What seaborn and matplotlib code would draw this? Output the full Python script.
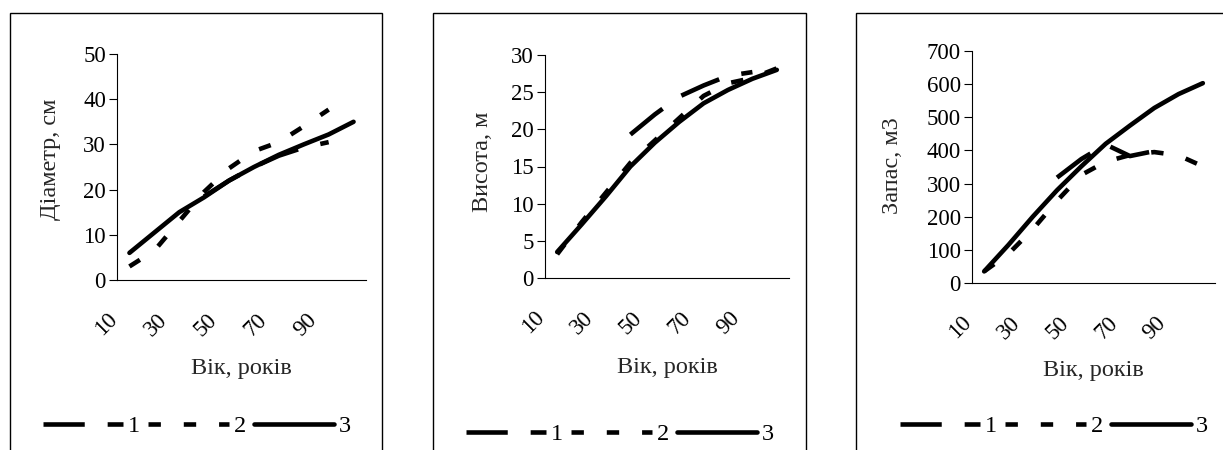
import numpy as np
import pandas as pd
import seaborn as sns
import matplotlib
matplotlib.use("Agg")
import matplotlib.pyplot as plt
from matplotlib.patches import Rectangle
from matplotlib.transforms import ScaledTranslation

# ---- data -------------------------------------------------------------
ages = [10, 20, 30, 40, 50, 60, 70, 80, 90, 100]
age_labels = ["10", "30", "50", "70", "90"]
series_names = ["1", "2", "3"]

nan = np.nan
diameter_1 = [nan, nan, nan, 18.5, 22.0, 25.0, 27.5, 29.3, 30.5, nan]
diameter_2 = [3.0, 6.5, 13.0, 19.5, 24.7, 28.5, 30.5, 34.0, 37.7, nan]
diameter_3 = [6.0, 10.5, 15.0, 18.3, 22.0, 25.0, 27.7, 30.0, 32.2, 35.0]

height_1 = [nan, nan, nan, 19.3, 22.0, 24.4, 25.9, 27.2, 27.7, nan]
height_2 = [3.2, 7.5, 11.5, 15.5, 18.5, 21.5, 24.5, 26.2, 26.9, 28.2]
height_3 = [3.5, 7.2, 11.0, 15.0, 18.2, 21.0, 23.5, 25.3, 26.8, 28.0]

stock_1 = [nan, nan, nan, 318, 374, 418, 383, 398, nan, nan]
stock_2 = [35, 88, 162, 248, 326, 366, 386, 395, 385, 352]
stock_3 = [35, 115, 200, 280, 352, 420, 475, 528, 570, 603]

y_titles = ["Діаметр, см", "Висота, м", "Запас, м3"]
x_title = "Вік, років"
y_limits = [(0, 50, 10), (0, 30, 5), (0, 700, 100)]

# ---- style ------------------------------------------------------------
sns.set_style("white")
plt.rcParams["font.family"] = ["Liberation Serif", "DejaVu Serif"]
plt.rcParams["font.size"] = 16.5
plt.rcParams["text.color"] = "black"
plt.rcParams["xtick.color"] = "black"
plt.rcParams["ytick.color"] = "black"

TICK_FS = 16.5
TITLE_FS = 17.5

DPI = 100
W, H = 1223, 450
fig = plt.figure(figsize=(W / DPI, H / DPI), dpi=DPI)
fig.patch.set_facecolor("white")

dash_map = {"1": (9.0, 5.0), "2": (2.7, 5.0), "3": ""}


def px_box(left, top, right, bottom):
    return [left / W, 1 - bottom / H, (right - left) / W, (bottom - top) / H]


# axes rectangles (pixels): left, top, right, bottom
axes_px = [(117, 54, 366, 280), (545, 55, 789, 278), (972, 51, 1215, 283)]
# surrounding chart frames (pixels)
frames_px = [(10, 13, 382, 470), (433, 13, 806, 470), (856, 13, 1240, 470)]
ylabel_x = [-0.225, -0.215, -0.285]
ylabel_y = [0.535, 0.52, 0.505]
xlabel_y = [-0.345, -0.355, -0.33]
legend_pos = [(197, 426), (620, 434), (1054, 426)]

panels = [
    (diameter_1, diameter_2, diameter_3),
    (height_1, height_2, height_3),
    (stock_1, stock_2, stock_3),
]

# rotated age labels sit to the left of their category
label_shift = ScaledTranslation(-23 / DPI, 0, fig.dpi_scale_trans)

for k, values in enumerate(panels):
    l, t, r, b = frames_px[k]
    fig.patches.append(Rectangle((l / W, 1 - b / H), (r - l) / W, (b - t) / H,
                                 transform=fig.transFigure, fill=False,
                                 edgecolor="black", linewidth=1.0, zorder=0))

    ax = fig.add_axes(px_box(*axes_px[k]))
    rows = []
    for name, vals in zip(series_names, values):
        for i, v in enumerate(vals):
            rows.append({"pos": i, "age": ages[i], "value": v, "series": name})
    df = pd.DataFrame(rows).dropna()

    sns.lineplot(data=df, x="pos", y="value", style="series",
                 style_order=series_names, dashes=dash_map, color="black",
                 linewidth=3.3, legend=False, ax=ax, sort=True,
                 dash_capstyle="butt", solid_capstyle="round")

    lo, hi, step = y_limits[k]
    ax.set_ylim(lo, hi)
    ax.set_yticks(np.arange(lo, hi + step / 2, step))

    # category boundaries carry the tick marks, every second category a label
    ax.set_xticks(np.arange(-0.5, len(ages), 1.0))
    ax.set_xticklabels([])
    label_pos = [ages.index(int(s)) for s in age_labels]
    ax.set_xticks(label_pos, minor=True)
    ax.set_xticklabels(age_labels, minor=True, rotation=45, ha="right",
                       va="top", rotation_mode="anchor")
    ax.set_xlim(-0.5, len(ages) - 0.5)
    ax.tick_params(axis="x", which="major", direction="out", length=5,
                   width=0.8)
    ax.tick_params(axis="x", which="minor", length=0, pad=21,
                   labelsize=TICK_FS)
    ax.tick_params(axis="y", direction="out", length=6, width=0.8, pad=2,
                   labelsize=TICK_FS, left=True)
    for lbl in ax.get_xticklabels(minor=True):
        lbl.set_transform(lbl.get_transform() + label_shift)

    for side in ["top", "right"]:
        ax.spines[side].set_visible(False)
    for side in ["left", "bottom"]:
        ax.spines[side].set_color("black")
        ax.spines[side].set_linewidth(0.8)

    ax.set_ylabel(y_titles[k], fontsize=TITLE_FS)
    ax.yaxis.set_label_coords(ylabel_x[k], ylabel_y[k])
    ax.set_xlabel(x_title, fontsize=TITLE_FS)
    ax.xaxis.set_label_coords(0.5, xlabel_y[k])

    lx, ly = legend_pos[k]
    fig.legend(ax.lines[:3], series_names, loc="center",
               bbox_to_anchor=(lx / W, 1 - ly / H), ncol=3, frameon=False,
               handlelength=3.3, handletextpad=0.2, columnspacing=0.35,
               borderpad=0, borderaxespad=0, fontsize=TITLE_FS)

fig.savefig("out.png", dpi=DPI, facecolor="white")
